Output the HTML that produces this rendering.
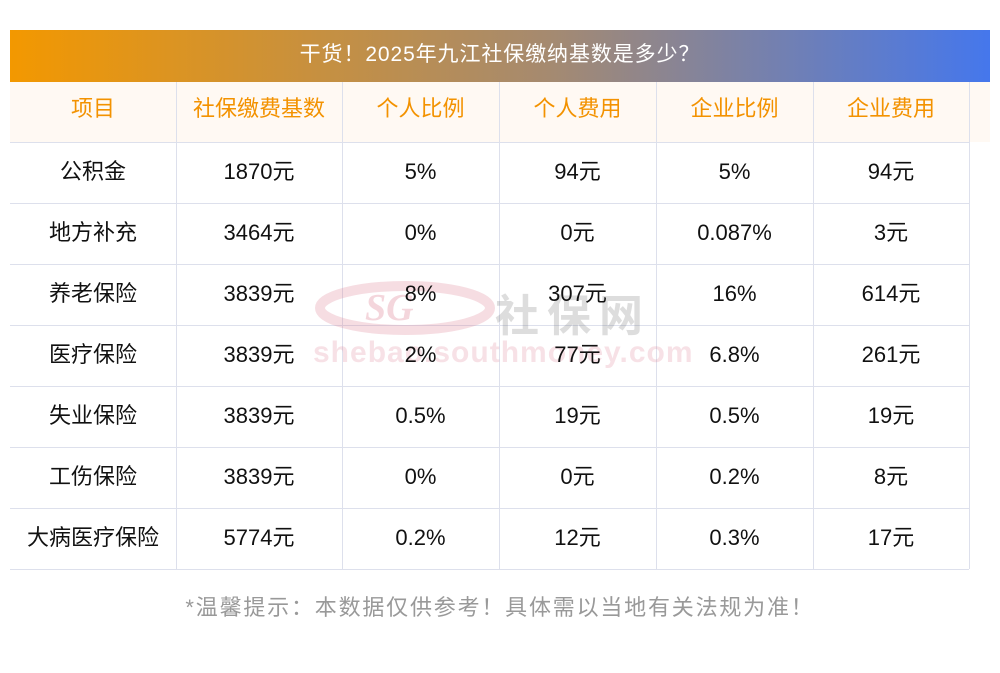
<!DOCTYPE html>
<html><head><meta charset="utf-8"><style>
body{margin:0;width:1000px;height:673px;background:#fff;position:relative;overflow:hidden;font-family:"Liberation Sans","Noto Sans CJK SC",sans-serif}
.t{position:absolute;left:10px;top:30px;width:980px;height:52px;background:linear-gradient(90deg,#f39800,#a58a70 55%,#4577ec);color:#fff;font-size:21px;line-height:50px;text-align:center;letter-spacing:0.9px}
.h{position:absolute;left:10px;top:82px;width:980px;height:60px;background:#fff9f3}
.c{position:absolute;height:60px;line-height:60px;text-align:center;font-size:22px;color:#111}
.hc{color:#f39200}
.v{position:absolute;width:1px;background:#dde0ec;top:82px;height:487px}
.hl{position:absolute;height:1px;background:#dde0ec;left:10px;width:959px}
.wm{position:absolute;font-size:30px;color:rgba(220,120,140,0.22);font-weight:bold;letter-spacing:1px}
.wm2{position:absolute;font-size:44px;color:rgba(120,120,120,0.25);font-weight:bold;letter-spacing:8px}
.f{position:absolute;top:590px;left:0;width:1000px;text-align:center;font-size:22px;color:#999;letter-spacing:1.8px}
</style></head><body>
<div class="t">干货！2025年九江社保缴纳基数是多少？</div>
<div class="h"></div>
<div class="v" style="left:176px"></div><div class="v" style="left:342px"></div><div class="v" style="left:499px"></div><div class="v" style="left:656px"></div><div class="v" style="left:813px"></div><div class="v" style="left:969px"></div>
<div class="hl" style="top:142px"></div><div class="hl" style="top:203px"></div><div class="hl" style="top:264px"></div><div class="hl" style="top:325px"></div><div class="hl" style="top:386px"></div><div class="hl" style="top:447px"></div><div class="hl" style="top:508px"></div><div class="hl" style="top:569px"></div>
<svg style="position:absolute;left:310px;top:278px" width="190" height="60"><ellipse cx="95" cy="30" rx="85" ry="22" fill="none" stroke="rgba(220,120,140,0.25)" stroke-width="10"/><text x="55" y="42" font-size="38" font-style="italic" font-weight="bold" fill="rgba(220,120,140,0.3)" font-family="Liberation Serif">SG</text></svg>
<div class="wm2" style="left:495px;top:280px">社保网</div>
<div class="wm" style="left:313px;top:336px">shebao.southmoney.com</div>
<div id="g"></div>
<script>
var cols=[10,176,342,499,656,813,969];
var rows=[["项目","社保缴费基数","个人比例","个人费用","企业比例","企业费用"],
["公积金","1870元","5%","94元","5%","94元"],
["地方补充","3464元","0%","0元","0.087%","3元"],
["养老保险","3839元","8%","307元","16%","614元"],
["医疗保险","3839元","2%","77元","6.8%","261元"],
["失业保险","3839元","0.5%","19元","0.5%","19元"],
["工伤保险","3839元","0%","0元","0.2%","8元"],
["大病医疗保险","5774元","0.2%","12元","0.3%","17元"]];
var tops=[82,142,203,264,325,386,447,508];var h="";
rows.forEach(function(r,i){r.forEach(function(t,j){h+='<div class="c'+(i==0?' hc':'')+'" style="left:'+cols[j]+'px;width:'+(cols[j+1]-cols[j])+'px;top:'+(tops[i]+(i==0?-3:0))+'px">'+t+'</div>';});});
document.getElementById("g").innerHTML=h;
</script>
<div class="f">*温馨提示：本数据仅供参考！具体需以当地有关法规为准！</div>
</body></html>
